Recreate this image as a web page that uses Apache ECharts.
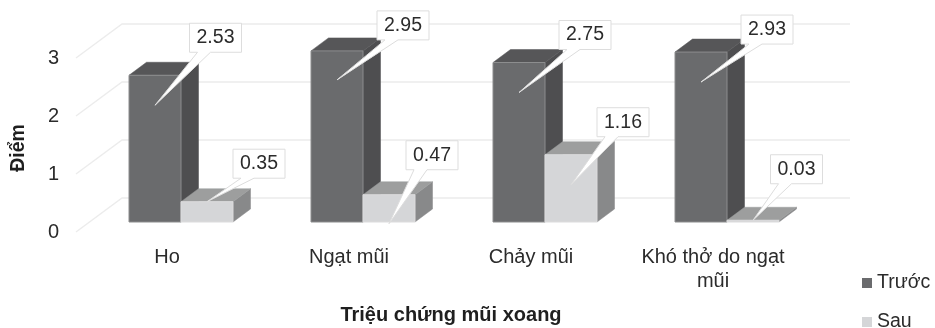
<!DOCTYPE html>
<html>
<head>
<meta charset="utf-8">
<style>
html,body{margin:0;padding:0;background:#fff;}
#chart{width:935px;height:328px;filter:blur(0.5px);}
</style>
<script src="https://cdn.jsdelivr.net/npm/echarts@6/dist/echarts.min.js"></script>
</head>
<body>
<div id="chart"></div>
<script>
const categories = ['Ho', 'Ngạt mũi', 'Chảy mũi', 'Khó thở do ngạt\nmũi'];
const seriesNames = ['Trước', 'Sau'];
const truoc = [2.53, 2.95, 2.75, 2.93];
const sau = [0.35, 0.47, 1.16, 0.03];
const yTicks = [0, 1, 2, 3];

const FONT = '"Liberation Sans", Arial, sans-serif';
const palette = [
  {front: '#6a6b6d', side: '#4e4e50', top: '#565658', edge: '#8c8d8e'},
  {front: '#d5d6d8', side: '#88898a', top: '#9d9e9e', edge: '#dcdcdd'}
];
// 3D projection, as fractions of one category band
const BAR_W = 52 / 182, PLANE_X = 14 / 182, PLANE_Y = 10 / 182;
const DEPTH_X = 17.5 / 182, DEPTH_Y = 13 / 182, WALL_X = 46 / 182, WALL_Y = 34 / 182;
// callout placement per series and category: [tip below bar top, box dx, box dy], in px
const calloutLayout = [
  [[30, 60.5, -67.5], [29, 66, -54.5], [30, 66, -57.5], [30, 66, -52.5]],
  [[0, 52, -38], [29, 43, -68.5], [30, 52, -62.5], [0, 43.5, -51]]
];

function barFrame(api, seriesIdx) {
  const cat = api.value(0), val = api.value(1);
  const band = api.size([1, 0])[0];
  const c = api.coord([cat, val]), b = api.coord([cat, 0]);
  const w = band * BAR_W;
  const left = c[0] + band * PLANE_X - (seriesIdx === 0 ? w : 0);
  const py = band * PLANE_Y;
  return {left, w, top: c[1] - py, base: b[1] - py, dx: band * DEPTH_X, dy: band * DEPTH_Y};
}

function renderBar(seriesIdx) {
  return function (params, api) {
    const f = barFrame(api, seriesIdx), col = palette[seriesIdx];
    const r = f.left + f.w;
    const poly = (pts, fill, stroke) => ({
      type: 'polygon', shape: {points: pts},
      style: {fill, stroke: stroke || fill, lineWidth: stroke ? 1 : 0.5}
    });
    return {type: 'group', children: [
      poly([[r, f.top], [r + f.dx, f.top - f.dy], [r + f.dx, f.base - f.dy], [r, f.base]], col.side),
      poly([[f.left, f.top], [r, f.top], [r + f.dx, f.top - f.dy], [f.left + f.dx, f.top - f.dy]], col.top),
      poly([[f.left, f.top], [r, f.top], [r, f.base], [f.left, f.base]], col.front, col.edge)
    ]};
  };
}

function renderWall(params, api) {
  const v = api.value(1);
  const band = api.size([1, 0])[0];
  const a = api.coord([0, v]), z = api.coord([categories.length - 1, v]);
  const x0 = a[0] - band / 2, x1 = z[0] + band / 2, y = a[1];
  const bx = x0 + band * WALL_X, by = y - band * WALL_Y;
  return {type: 'polyline',
    shape: {points: [[x0, y], [bx, by], [x1 + band * WALL_X, by]]},
    style: {fill: null, stroke: '#ececec', lineWidth: 1.4}};
}

function renderCallout(params, api) {
  const cat = api.value(0), seriesIdx = api.value(2);
  const f = barFrame(api, seriesIdx);
  const L = calloutLayout[seriesIdx][cat];
  const tipX = f.left + f.w / 2, tipY = f.top + L[0];
  const cx = tipX + L[1], cy = tipY + L[2];
  const hw = 26, hh = 14.5, bl = cx - hw;
  const pts = [[bl, cy - hh], [cx + hw, cy - hh], [cx + hw, cy + hh],
    [bl + 21, cy + hh], [tipX, tipY], [bl + 8, cy + hh], [bl, cy + hh]];
  return {type: 'group', children: [
    {type: 'polygon', shape: {points: pts},
      style: {fill: '#ffffff', stroke: '#dddddd', lineWidth: 1}},
    {type: 'text', style: {text: api.value(1).toFixed(2), x: cx, y: cy,
      align: 'center', verticalAlign: 'middle', font: '19.5px ' + FONT, fill: '#2b2b2b'}}
  ]};
}

const toData = arr => arr.map((v, i) => [i, v]);
const calloutData = truoc.map((v, i) => [i, v, 0]).concat(sau.map((v, i) => [i, v, 1]));

const chart = echarts.init(document.getElementById('chart'), null, {renderer: 'canvas'});
chart.setOption({
  animation: false,
  backgroundColor: '#ffffff',
  textStyle: {fontFamily: FONT},
  grid: {left: 76, top: 58, width: 728, height: 174, containLabel: false, outerBoundsMode: 'none'},
  legend: {
    data: seriesNames, orient: 'vertical', left: 862, top: 273, height: 60, padding: 0,
    itemWidth: 10, itemHeight: 10, itemGap: 19, icon: 'rect',
    textStyle: {fontFamily: FONT, fontSize: 19.5, color: '#2b2b2b'},
    selectedMode: false
  },
  xAxis: {
    type: 'category', data: categories,
    axisLine: {show: false}, axisTick: {show: false}, splitLine: {show: false},
    axisLabel: {margin: 13, fontSize: 20, color: '#2b2b2b', fontFamily: FONT, lineHeight: 24, interval: 0},
    name: 'Triệu chứng mũi xoang', nameLocation: 'middle', nameGap: 73,
    nameTextStyle: {fontFamily: FONT, fontSize: 20, fontWeight: 'bold', color: '#1f1f1f', padding: [0, 0, 0, 22]}
  },
  yAxis: {
    type: 'value', min: 0, max: 3, interval: 1,
    axisLine: {show: false}, axisTick: {show: false}, splitLine: {show: false},
    axisLabel: {margin: 17, fontSize: 20, color: '#2b2b2b', fontFamily: FONT},
    name: 'Điểm', nameLocation: 'middle', nameGap: 47, nameRotate: 90,
    nameTextStyle: {fontFamily: FONT, fontSize: 19.5, fontWeight: 'bold', color: '#1f1f1f', padding: [0, 6, 0, 0]}
  },
  series: [
    {type: 'custom', name: 'wall', silent: true, clip: false, renderItem: renderWall,
      encode: {x: 0, y: 1}, data: yTicks.map(t => [0, t]), z: 1},
    {type: 'custom', name: seriesNames[0], clip: false, renderItem: renderBar(0),
      itemStyle: {color: palette[0].front}, encode: {x: 0, y: 1}, data: toData(truoc), z: 2},
    {type: 'custom', name: seriesNames[1], clip: false, renderItem: renderBar(1),
      itemStyle: {color: palette[1].front}, encode: {x: 0, y: 1}, data: toData(sau), z: 3},
    {type: 'custom', name: 'callouts', silent: true, clip: false, renderItem: renderCallout,
      encode: {x: 0, y: 1}, data: calloutData, z: 4}
  ]
});
</script>
</body>
</html>
